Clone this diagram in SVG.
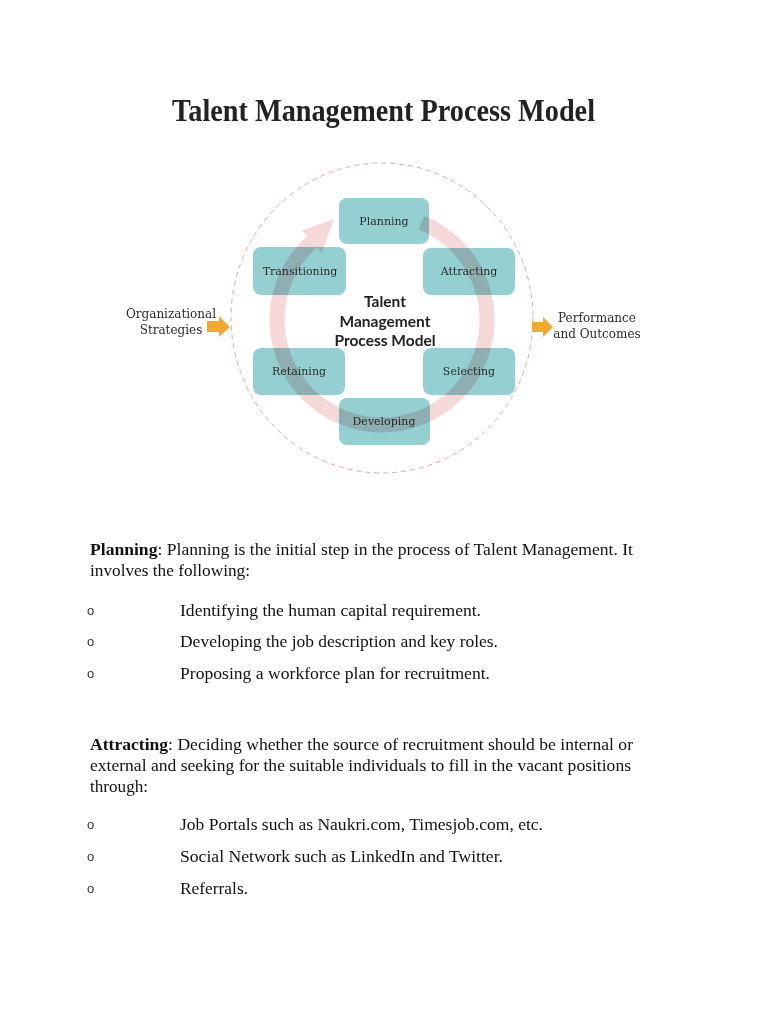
<svg xmlns="http://www.w3.org/2000/svg" width="768" height="1024" viewBox="0 0 768 1024">
<style>
.box{fill:#94cfd2;}
.bl{font-family:"DejaVu Serif","Liberation Serif",serif;font-size:11px;fill:#2b2b2b;text-anchor:middle;}
.side{font-family:"DejaVu Serif","Liberation Serif",serif;font-size:12px;fill:#2b2b2b;text-anchor:middle;}
.ctr{font-family:Lato,"Open Sans",sans-serif;font-weight:bold;font-size:15.5px;fill:#222;text-anchor:middle;}
.body{font-family:"Liberation Serif","Times New Roman",serif;font-size:17px;fill:#111;}
.bul{font-family:"Liberation Sans",Arial,sans-serif;font-size:13px;fill:#333;}
.orange{fill:#f2aa2e;}
.ring{fill:none;stroke:#f5d8d8;stroke-width:15;mix-blend-mode:multiply;}
.ringhead{fill:#f5d8d8;mix-blend-mode:multiply;}
</style>
<rect width="768" height="1024" fill="#ffffff"/>
<text x="172" y="121" font-family="Liberation Serif,Times New Roman,serif" font-weight="bold" font-size="31" fill="#222" textLength="423" lengthAdjust="spacingAndGlyphs">Talent Management Process Model</text>

<g id="outer-circle">
<ellipse cx="382" cy="318" rx="151" ry="155" fill="none" stroke="#e2a6a6" stroke-width="1" stroke-dasharray="5 4"/>
</g>

<g id="node-planning"><rect class="box" x="339" y="198" width="90" height="46" rx="8"/><text class="bl" x="384" y="225">Planning</text></g>
<g id="node-transitioning"><rect class="box" x="253" y="247" width="93" height="48" rx="8"/><text class="bl" x="300" y="275">Transitioning</text></g>
<g id="node-attracting"><rect class="box" x="423" y="248" width="92" height="47" rx="8"/><text class="bl" x="469" y="275">Attracting</text></g>
<g id="node-retaining"><rect class="box" x="253" y="348" width="92" height="47" rx="8"/><text class="bl" x="299" y="375">Retaining</text></g>
<g id="node-selecting"><rect class="box" x="423" y="348" width="92" height="47" rx="8"/><text class="bl" x="469" y="375">Selecting</text></g>
<g id="node-developing"><rect class="box" x="339" y="398" width="91" height="47" rx="8"/><text class="bl" x="384" y="425">Developing</text></g>

<g id="connectors">
<path class="ring" d="M421.3,222.6 A105,105 0 1 1 311.7,242.0"/>
<polygon class="ringhead" points="301.7,230.8 321.8,253.1 334,219"/>
<polygon id="arrow-in" class="orange" points="207,321 219,321 219,316 230,327 219,337 219,332 207,332"/>
<polygon id="arrow-out" class="orange" points="532,322 543,322 543,317 553,327 543,337 543,332 532,332"/>
</g>

<g id="center-label">
<text class="ctr" x="385" y="307">Talent</text>
<text class="ctr" x="385" y="327">Management</text>
<text class="ctr" x="385" y="346">Process Model</text>
</g>

<g id="node-org">
<text class="side" x="171" y="318">Organizational</text>
<text class="side" x="171" y="334">Strategies</text>
</g>
<g id="node-perf">
<text class="side" x="597" y="322">Performance</text>
<text class="side" x="597" y="338">and Outcomes</text>
</g>

<g id="body">
<text class="body" x="90" y="555" textLength="543" lengthAdjust="spacingAndGlyphs"><tspan font-weight="bold">Planning</tspan>: Planning is the initial step in the process of Talent Management. It</text>
<text class="body" x="90" y="576" textLength="160" lengthAdjust="spacingAndGlyphs">involves the following:</text>
<text class="bul" x="87" y="615">o</text><text class="body" x="180" y="616" textLength="301" lengthAdjust="spacingAndGlyphs">Identifying the human capital requirement.</text>
<text class="bul" x="87" y="646">o</text><text class="body" x="180" y="647" textLength="318" lengthAdjust="spacingAndGlyphs">Developing the job description and key roles.</text>
<text class="bul" x="87" y="678">o</text><text class="body" x="180" y="679" textLength="310" lengthAdjust="spacingAndGlyphs">Proposing a workforce plan for recruitment.</text>

<text class="body" x="90" y="750" textLength="543" lengthAdjust="spacingAndGlyphs"><tspan font-weight="bold">Attracting</tspan>: Deciding whether the source of recruitment should be internal or</text>
<text class="body" x="90" y="771" textLength="541" lengthAdjust="spacingAndGlyphs">external and seeking for the suitable individuals to fill in the vacant positions</text>
<text class="body" x="90" y="792" textLength="58" lengthAdjust="spacingAndGlyphs">through:</text>
<text class="bul" x="87" y="829">o</text><text class="body" x="180" y="830" textLength="363" lengthAdjust="spacingAndGlyphs">Job Portals such as Naukri.com, Timesjob.com, etc.</text>
<text class="bul" x="87" y="861">o</text><text class="body" x="180" y="862" textLength="323" lengthAdjust="spacingAndGlyphs">Social Network such as LinkedIn and Twitter.</text>
<text class="bul" x="87" y="893">o</text><text class="body" x="180" y="894" textLength="68" lengthAdjust="spacingAndGlyphs">Referrals.</text>
</g>
</svg>
